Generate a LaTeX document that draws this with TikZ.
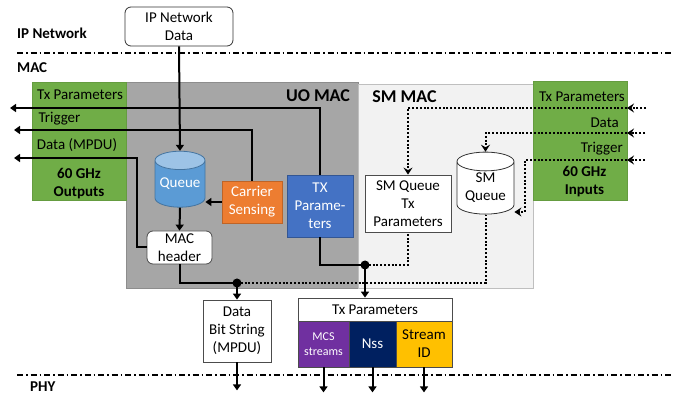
\documentclass[tikz,border=0pt]{standalone}
\usepackage{fontspec}
\setmainfont{Carlito}
\usetikzlibrary{shapes.geometric,arrows.meta}

\definecolor{uogray}{HTML}{A6A6A6}
\definecolor{smlight}{HTML}{F2F2F2}
\definecolor{macgreen}{HTML}{70AD47}
\definecolor{queueblue}{HTML}{5B9BD5}
\definecolor{queuetop}{HTML}{9DC3E6}
\definecolor{carrierorange}{HTML}{ED7D31}
\definecolor{txblue}{HTML}{4472C4}
\definecolor{mcspurple}{HTML}{7030A0}
\definecolor{nssnavy}{HTML}{002060}
\definecolor{streamyellow}{HTML}{FFC000}

\begin{document}
\begin{tikzpicture}[x=1pt, y=-1pt,
    every node/.style={font=\fontsize{15}{18}\selectfont, inner sep=0pt, align=center},
    wh/.style 2 args={minimum width=#1pt, minimum height=#2pt},
    layer/.style={font=\fontsize{15}{18}\selectfont\bfseries, anchor=west},
    macname/.style={font=\fontsize{18}{21}\selectfont\bfseries},
    layerline/.style={line width=1.1pt, dash pattern=on 6pt off 3pt on 1.5pt off 3pt},
    region/.style={rectangle, line width=1pt},
    box/.style={rectangle, draw=black!70, line width=0.8pt},
    dbase/.style={cylinder, shape border rotate=90, draw, line width=0.8pt},
    junct/.style={circle, fill=black, minimum size=9pt},
    conn/.style={line width=2pt},
    dotconn/.style={line width=2pt, dash pattern=on 2pt off 1.8pt},
    arr/.style={-{Triangle[length=6pt,width=8pt]}},
    dotarr/.style={-{Stealth[length=7pt,width=9pt,inset=2.5pt]}},
    ]
  \useasboundingbox (0,0) rectangle (691,395);

  % layer borders
  \draw[layerline] (17,53) -- (672,53);
  \draw[layerline] (17,375) -- (672,375);
  \node[layer] (iplabel) at (17,33) {IP Network};
  \node[layer] (maclabel) at (17,68) {MAC};
  \node[layer] (phylabel) at (30,386.5) {PHY};

  % regions
  \node[region, fill=uogray, draw=uogray!85!black, wh={232}{206}] (uomac) at (242,186) {};
  \node[region, fill=smlight, draw=black!25, wh={175}{204}] (smmac) at (445.5,187) {};
  \node[region, fill=macgreen, draw=macgreen!90!black, wh={94}{118}] (outbox) at (79,142) {};
  \node[region, fill=macgreen, draw=macgreen!90!black, wh={94}{119}] (inbox) at (580,141.5) {};
  \node[macname] (uolabel) at (318,96) {UO MAC};
  \node[macname] (smlabel) at (404.5,97) {SM MAC};

  % 60 GHz outputs
  \node (outtx) at (80,95) {Tx Parameters};
  \node (outtrig) at (59.5,119) {Trigger};
  \node (outdata) at (77,145) {Data (MPDU)};
  \node[font=\fontsize{15}{18}\selectfont\bfseries] (outname) at (79,184) {60 GHz\\Outputs};

  % 60 GHz inputs
  \node[anchor=east] (intx) at (625,97) {Tx Parameters};
  \node[anchor=east] (indata) at (619,123) {Data};
  \node[anchor=east] (intrig) at (623,149) {Trigger};
  \node[font=\fontsize{15}{18}\selectfont\bfseries] (inname) at (584.5,181.5) {60 GHz\\Inputs};

  % blocks
  \node[box, draw=black!80, rounded corners=6pt, fill=white, wh={108}{39}] (ipdata) at (179,26.5) {IP Network\\Data};
  \node[dbase, draw=queueblue!75!black, cylinder uses custom fill, cylinder body fill=queueblue,
        cylinder end fill=queuetop, text=white, minimum width=50pt, minimum height=56pt, aspect=0.45] (queue) at (180,184) {Queue};
  \node[box, draw=carrierorange!80!black, fill=carrierorange, text=white, wh={60}{42}] (carrier) at (252,202) {Carrier\\Sensing};
  \node[box, draw=txblue!75!black, fill=txblue, text=white, wh={66}{62}] (txpar) at (320,206) {TX\\Parame-\\ters};
  \node[box, rounded corners=6pt, fill=white, wh={65}{33}] (macheader) at (179.5,247.5) {MAC\\header};
  \node[box, fill=white, wh={86}{57}] (smtx) at (408,203.5) {SM Queue\\Tx\\Parameters};
  \node[dbase, draw=black!80, fill=white, minimum width=57pt, minimum height=62pt, aspect=0.46] (smqueue) at (485.5,188) {SM\\Queue};
  \node[box, fill=white, wh={68}{62}] (bitstring) at (237,331) {Data\\Bit String\\(MPDU)};
  \node[box, fill=white, wh={154}{23}] (txhead) at (375,309.5) {Tx Parameters};
  \node[box, fill=mcspurple, text=white, font=\fontsize{12}{15}\selectfont, wh={51}{46}] (mcs) at (323.5,344) {MCS\\streams};
  \node[box, fill=nssnavy, text=white, wh={47}{46}] (nss) at (372.5,344) {Nss};
  \node[box, fill=streamyellow, wh={56}{46}] (streamid) at (424,344) {Stream\\ID};

  % junctions
  \node[junct] (j1) at (237,283) {};
  \node[junct] (j2) at (365,265) {};

  % UO MAC connectors
  \coordinate (txout) at (10,108);
  \coordinate (trigout) at (14,130);
  \coordinate (dataout) at (14,158);
  \draw[conn, arr] (ipdata.south) -- (queue.top);
  \draw[conn, arr] (queue.bottom) -- (macheader.north);
  \draw[conn, arr] (carrier.west) -- (carrier.west -| queue.east);
  \draw[conn, arr] (txpar.north) |- (txout);
  \draw[conn, arr] (carrier.north) |- (trigout);
  \draw[conn, arr] (macheader.west) -| (137,158) -- (dataout);
  \draw[conn] (macheader.south) |- (j1.center);
  \draw[conn] (txpar.south) |- (j2.center);
  \draw[conn, arr] (j1.center) -- (bitstring.north);
  \draw[conn, arr] (j2.center) -- (j2 |- txhead.north);

  % SM MAC connectors
  \coordinate (txin) at (646,108);
  \coordinate (txedge) at (627,108);
  \coordinate (datain) at (645,133);
  \coordinate (dataedge) at (627,133);
  \coordinate (trigin) at (645,160);
  \coordinate (trigedge) at (627,160);
  \draw[dotconn, dotarr] (txin) -- (txedge);
  \draw[dotconn, dotarr] (datain) -- (dataedge);
  \draw[dotconn, dotarr] (trigin) -- (trigedge);
  \draw[dotconn, dotarr] (txedge) -| (smtx.north);
  \draw[dotconn, dotarr] (dataedge) -| (smqueue.top);
  \draw[dotconn, dotarr] (trigedge) -| (525,212) -- (smqueue.east |- 0,212);
  \draw[dotconn] (j1.center) -| (smqueue.bottom);
  \draw[dotconn] (j2.center) -| (smtx.south);

  % to PHY
  \draw[conn, arr] (bitstring.south) -- ++(0,28);
  \draw[conn, arr] (mcs.south) -- ++(0,25);
  \draw[conn, arr] (nss.south) -- ++(0,25);
  \draw[conn, arr] (streamid.south) -- ++(0,25);
\end{tikzpicture}
\end{document}
